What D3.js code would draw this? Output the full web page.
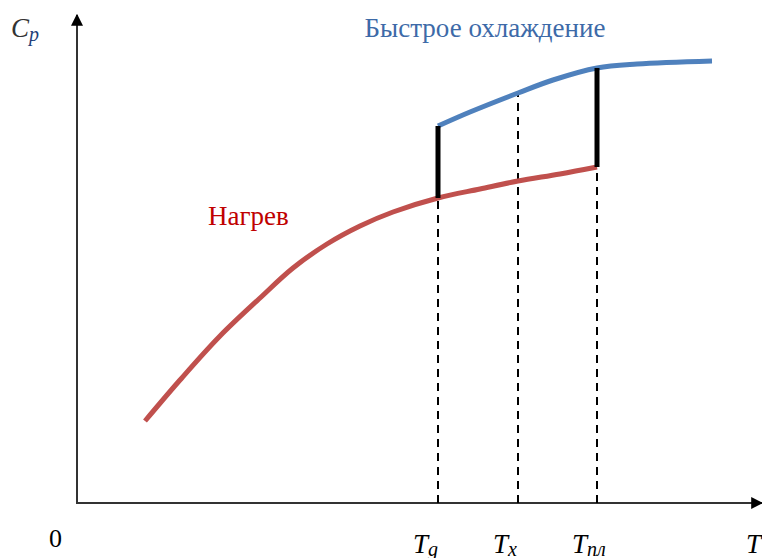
<!DOCTYPE html>
<html>
<head>
<meta charset="utf-8">
<script src="https://cdn.jsdelivr.net/npm/d3@7"></script>
</head>
<body style="margin:0; background:#fff">
<svg id="chart" width="762" height="558"></svg>
<script>
// Heat capacity Cp vs temperature T (arbitrary units)
const heatT  = [68, 103, 143, 183, 216, 250, 283, 316, 361, 403, 441, 483, 520];
const heatCp = [82, 123, 167, 205, 235, 259, 277, 291, 305, 314, 322, 329, 336];

const coolT  = [361, 393, 441, 476, 520, 560, 635];
const coolCp = [377, 391, 410, 423, 435, 439, 442];

// Characteristic temperatures
const markNames = ["g", "x", "пл"];
const markT     = [361, 441, 520];

const svg = d3.select("#chart");
const x = d3.scaleLinear().domain([0, 680]).range([77, 757]);
const y = d3.scaleLinear().domain([0, 488]).range([503, 15]);

// Arrow head
svg.append("defs").append("marker")
  .attr("id", "arrow").attr("viewBox", "0 0 10 10")
  .attr("refX", 9).attr("refY", 5)
  .attr("markerWidth", 6).attr("markerHeight", 6)
  .attr("orient", "auto-start-reverse")
  .append("path").attr("d", "M0,0 L10,5 L0,10 Z").attr("fill", "#000");

// Axes
svg.append("line")
  .attr("x1", x(0)).attr("y1", y(0)).attr("x2", x(0)).attr("y2", y(488))
  .attr("stroke", "#333").attr("stroke-width", 2).attr("marker-end", "url(#arrow)");
svg.append("line")
  .attr("x1", x(0) - 1).attr("y1", y(0)).attr("x2", 762).attr("y2", y(0))
  .attr("stroke", "#333").attr("stroke-width", 2).attr("marker-end", "url(#arrow)");

const interp = (xs, ys, t) => {
  for (let i = 0; i < xs.length - 1; i++) {
    if (t >= xs[i] && t <= xs[i + 1]) {
      const f = (t - xs[i]) / (xs[i + 1] - xs[i]);
      return ys[i] + f * (ys[i + 1] - ys[i]);
    }
  }
  return null;
};

const heatAt = t => interp(heatT, heatCp, t);
const coolAt = t => interp(coolT, coolCp, t);

// Dashed guide lines from the axis to the curves
markT.forEach((t, i) => {
  const top = i === 1 ? coolAt(t) : heatAt(t);
  svg.append("line")
    .attr("x1", x(t)).attr("x2", x(t))
    .attr("y1", y(0)).attr("y2", y(top))
    .attr("stroke", "#000").attr("stroke-width", 2)
    .attr("stroke-dasharray", "8,6");
});

const line = d3.line().x(d => x(d[0])).y(d => y(d[1])).curve(d3.curveCatmullRom.alpha(0.5));

svg.append("path")
  .datum(heatT.map((t, i) => [t, heatCp[i]]))
  .attr("d", line).attr("fill", "none")
  .attr("stroke", "#c0504d").attr("stroke-width", 5);

svg.append("path")
  .datum(coolT.map((t, i) => [t, coolCp[i]]))
  .attr("d", line).attr("fill", "none")
  .attr("stroke", "#4f81bd").attr("stroke-width", 5);

// Jumps between heating and quenching curves at Tg and Tпл
[markT[0], markT[2]].forEach(t => {
  svg.append("line")
    .attr("x1", x(t)).attr("x2", x(t))
    .attr("y1", y(heatAt(t))).attr("y2", y(coolAt(t)))
    .attr("stroke", "#000").attr("stroke-width", 5);
});

// Labels
const label = (px, py, size) => svg.append("text")
  .attr("x", px).attr("y", py)
  .style("font-family", `"Liberation Serif"`)
  .style("font-size", size + "px");

label(485, 37, 27).attr("text-anchor", "middle").attr("fill", "#3d6aa8").text("Быстрое охлаждение");
label(208, 225, 27).attr("fill", "#c00000").text("Нагрев");

const cp = label(11, 37, 27).style("font-style", "italic").attr("fill", "#333");
cp.append("tspan").text("C");
cp.append("tspan").style("font-size", "20px").attr("dy", 4).attr("fill", "#1f3f78").text("p");

label(49, 547, 26).attr("fill", "#000").text("0");

markT.forEach((t, i) => {
  const tx = label(x(t) - 25, 553, 27).style("font-style", "italic").attr("fill", "#000");
  tx.append("tspan").text("T");
  tx.append("tspan").style("font-size", "20px").attr("dy", 3).text(markNames[i]);
});

label(746, 553, 27).style("font-style", "italic").attr("fill", "#000").text("T");
</script>
</body>
</html>
